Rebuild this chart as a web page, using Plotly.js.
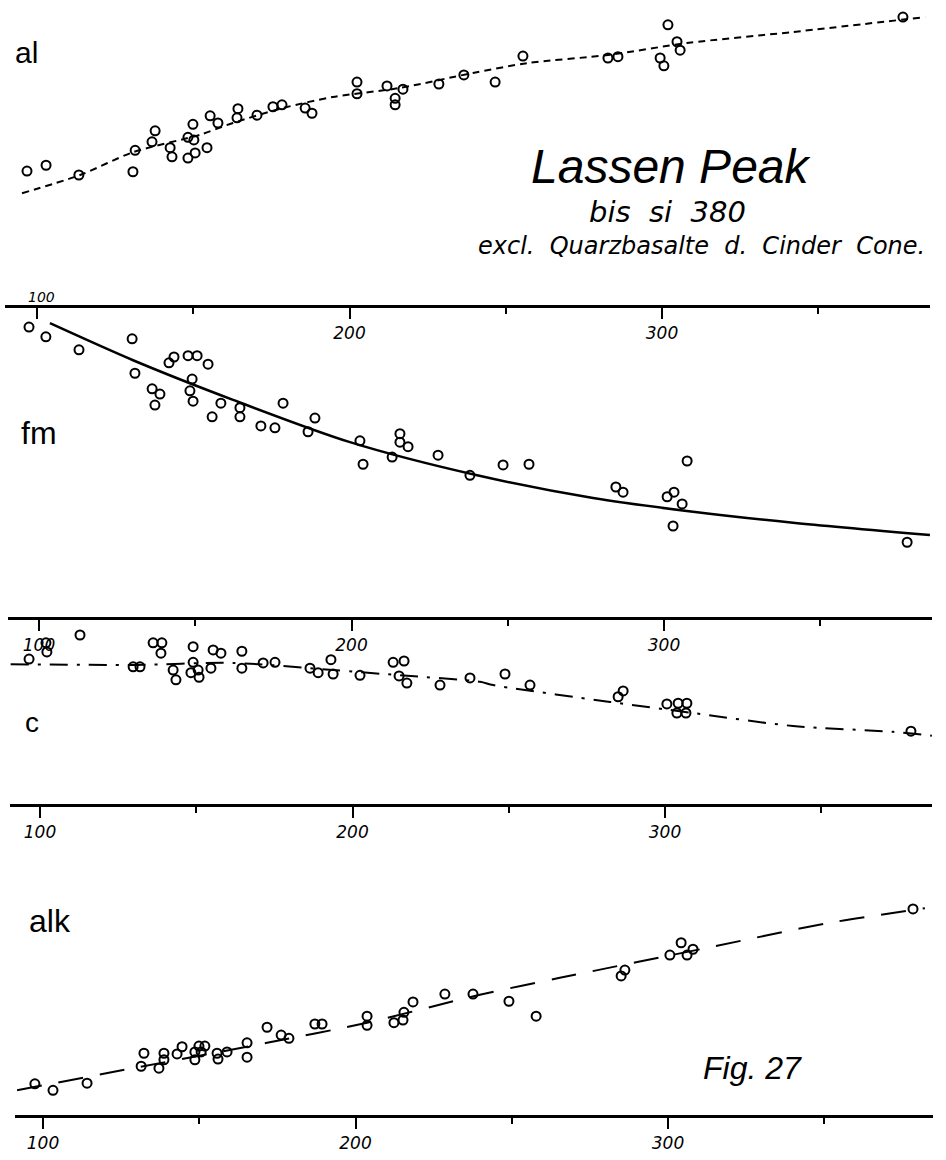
<!DOCTYPE html>
<html>
<head>
<meta charset="utf-8">
<script src="https://cdn.plot.ly/plotly-3.0.1.min.js"></script>
<style>
  html, body { margin: 0; padding: 0; background: #fff; }
  #chart { width: 946px; height: 1160px; }
</style>
</head>
<body>
<div id="chart"></div>
<script>
// ---------- data (si vs Niggli values) ----------
const alSi  = [96.8,102.9,113.4,130.7,131.4,136.8,137.8,142.6,143.2,148.3,150.6,154.4,148.3,149.9,150.2,155.4,157.9,164.3,164.0,170.4,175.5,178.4,185.8,188.0,202.4,202.4,212.0,214.6,214.6,217.1,228.6,236.6,246.6,255.5,282.7,285.9,301.9,299.4,300.6,304.8,305.8,377.1];
const alVal = [20.6,21.5,20.0,20.5,23.8,25.1,26.8,24.2,22.8,22.6,23.4,24.2,25.8,27.8,25.4,29.1,28.0,30.2,28.8,29.2,30.5,30.8,30.3,29.5,34.3,32.5,33.7,31.8,30.8,33.2,34.0,35.4,34.3,38.3,38.0,38.2,43.1,38.0,36.8,40.5,39.2,44.3];
const alLineSi  = [95.2,113.8,130.7,152.2,162.7,178.7,194.7,216.2,239.5,256.8,283.4,308.0,341.9,384.2];
const alLineVal = [17.2,20.0,23.5,26.2,28.0,30.3,32.0,33.4,35.7,37.2,38.5,40.3,42.0,44.3];

const fmSi  = [96.8,102.2,112.8,129.8,130.7,136.2,138.7,137.1,141.6,143.2,147.7,150.6,154.1,149.0,148.3,149.3,158.2,155.4,164.3,164.3,171.0,175.5,178.1,186.1,188.3,202.7,203.7,213.0,215.5,215.5,218.1,227.7,237.9,248.5,256.8,284.6,286.9,301.0,303.2,305.8,307.4,302.9,377.8];
const fmVal = [44.6,43.1,41.1,42.8,37.5,35.1,34.3,32.6,39.1,40.0,40.2,40.2,38.9,36.6,34.8,33.2,32.9,30.8,32.2,30.8,29.4,29.1,32.9,28.5,30.6,27.1,23.5,24.6,28.2,26.9,26.2,24.9,21.8,23.4,23.5,20.0,19.2,18.5,19.2,17.4,24.0,14.0,11.5];
const fmLineSi  = [103.5,130.1,162.1,199.5,240.2,277.3,309.3,341.3,385.1];
const fmLineVal = [45.2,39.5,33.4,26.9,21.8,18.3,16.2,14.5,12.6];

const cSi  = [96.5,101.9,102.2,112.8,129.8,132.0,136.2,139.0,138.7,142.6,143.5,149.0,149.0,148.3,150.6,150.9,155.4,157.9,154.7,164.6,164.6,171.4,175.2,186.4,189.0,193.1,193.8,202.4,213.0,216.5,214.9,217.4,228.0,237.6,248.8,256.8,285.0,286.6,300.6,304.2,307.0,303.8,306.7,378.7];
const cVal = [22.3,24.8,23.4,26.0,21.1,21.1,24.8,24.8,23.2,20.6,19.1,24.2,21.8,20.2,20.6,19.5,23.7,23.2,20.9,23.5,20.9,21.7,21.8,20.9,20.2,22.2,20.0,19.8,21.8,22.0,19.7,18.6,18.3,19.4,20.0,18.3,16.5,17.4,15.4,15.5,15.5,14.0,14.0,11.2];
const cLineSi  = [90.6,129.8,161.8,193.8,215.2,240.8,245.0,282.4,309.0,341.0,373.0,385.4];
const cLineVal = [21.5,21.4,21.7,20.6,19.8,18.8,18.3,15.7,14.0,12.0,11.1,10.5];

const alkSi  = [97.4,103.2,114.1,131.4,132.3,137.1,138.7,138.7,142.9,144.5,148.6,148.6,149.9,150.6,151.8,155.7,156.0,158.9,165.3,165.3,171.7,176.2,178.7,187.0,189.3,203.7,203.7,212.3,215.2,215.5,218.4,228.6,237.6,249.1,257.8,285.0,286.2,300.6,304.2,306.1,308.0,378.4];
const alkVal = [4.8,3.8,4.9,7.5,9.5,7.2,9.5,8.5,9.4,10.5,8.5,9.7,10.6,9.7,10.6,9.5,8.6,9.7,11.1,8.9,13.5,12.3,11.8,14.0,14.0,15.2,13.8,14.2,14.6,15.8,17.4,18.6,18.6,17.5,15.2,21.4,22.3,24.6,26.5,24.6,25.5,31.7];
const alkLineSi  = [91.7,131.0,171.7,203.7,239.8,265.4,313.4,350.9,382.2];
const alkLineVal = [3.8,7.4,11.1,14.2,18.5,21.1,25.8,29.5,31.8];

const tickVals  = [100, 200, 300];
const minorVals = [150, 250, 350];
const tickText  = ["100", "200", "300"];
const tickTextTop = ["", "200", "300"];

// ---------- helpers ----------
const W = 946, H = 1160;
const px = x => x / W;
const py = y => 1 - y / H;
const K = 6.5;      // px per Niggli unit
const S = 3.125;    // px per si unit

function xAxis(L, R, x0, yref, text) {
  return {
    domain: [px(L), px(R)],
    range: [100 + (L - x0) / S, 100 + (R - x0) / S],
    anchor: yref,
    showgrid: false, zeroline: false,
    showline: true, linecolor: '#000', linewidth: 2.5,
    ticks: 'outside', ticklen: 11, tickwidth: 2, tickcolor: '#000',
    tickmode: 'array', tickvals: tickVals, ticktext: text,
    tickfont: {family: 'DejaVu Sans', size: 17, color: '#000', style: 'italic'},
    minor: {tickmode: 'array', tickvals: minorVals, ticks: 'outside', ticklen: 6, tickwidth: 2, tickcolor: '#000', showgrid: false},
    fixedrange: true
  };
}
function yAxis(top, axisY) {
  return {
    domain: [py(axisY), py(top)],
    range: [0, (axisY - top) / K],
    visible: false, showgrid: false, zeroline: false, fixedrange: true
  };
}
function markers(x, y, xa, ya) {
  return {x, y, xaxis: xa, yaxis: ya, type: 'scatter', mode: 'markers', cliponaxis: false,
    marker: {symbol: 'circle-open', size: 9, color: '#000', line: {width: 2, color: '#000'}},
    hoverinfo: 'skip'};
}
function curve(x, y, xa, ya, dash, width) {
  return {x, y, xaxis: xa, yaxis: ya, type: 'scatter', mode: 'lines', cliponaxis: false,
    line: {color: '#000', width: width, dash: dash, shape: 'spline', smoothing: 0.8},
    hoverinfo: 'skip'};
}

const data = [
  curve(alLineSi, alLineVal, 'x', 'y', '7px,5px', 2),
  markers(alSi, alVal, 'x', 'y'),
  curve(fmLineSi, fmLineVal, 'x2', 'y2', 'solid', 2.5),
  markers(fmSi, fmVal, 'x2', 'y2'),
  curve(cLineSi, cLineVal, 'x3', 'y3', '18px,9px,3px,9px', 2),
  markers(cSi, cVal, 'x3', 'y3'),
  curve(alkLineSi, alkLineVal, 'x4', 'y4', '25px,17px', 2),
  markers(alkSi, alkVal, 'x4', 'y4')
];

const lab = (t, x, y, size, extra) => Object.assign({
  text: t, x: px(x), y: py(y), xref: 'paper', yref: 'paper',
  xanchor: 'center', yanchor: 'middle', showarrow: false,
  font: {family: 'Liberation Sans', size: size, color: '#000'}
}, extra || {});

const layout = {
  width: W, height: H,
  margin: {l: 0, r: 0, t: 0, b: 0, pad: 0},
  paper_bgcolor: '#fff', plot_bgcolor: 'rgba(0,0,0,0)',
  showlegend: false,
  xaxis:  xAxis(5, 930, 37, 'y', tickTextTop),
  yaxis:  yAxis(0, 305),
  xaxis2: xAxis(8, 932, 39, 'y2', tickText),
  yaxis2: yAxis(312, 617),
  xaxis3: xAxis(10, 932, 40, 'y3', tickText),
  yaxis3: yAxis(620, 804),
  xaxis4: xAxis(15, 933, 43, 'y4', tickText),
  yaxis4: yAxis(810, 1115),
  annotations: [
    lab('al', 26, 53, 30),
    lab('fm', 39, 433, 32),
    lab('c', 32, 722, 28),
    lab('alk', 50, 921, 32),
    lab('100', 41, 297, 14, {font: {family: 'DejaVu Sans', size: 14, color: '#000', style: 'italic'}}),
    lab('Lassen Peak', 671, 167, 48, {font: {family: 'Liberation Sans', size: 48, color: '#000', style: 'italic'}}),
    lab('bis  si  380', 667, 212, 29, {font: {family: 'DejaVu Sans', size: 29, color: '#000', style: 'italic'}}),
    lab('excl.  Quarzbasalte  d.  Cinder  Cone.', 701, 246, 24, {font: {family: 'DejaVu Sans', size: 24, color: '#000', style: 'italic'}}),
    lab('Fig. 27', 752, 1068, 32, {font: {family: 'Liberation Sans', size: 32, color: '#000', style: 'italic'}})
  ]
};

Plotly.newPlot('chart', data, layout, {staticPlot: true, displayModeBar: false});
</script>
</body>
</html>
